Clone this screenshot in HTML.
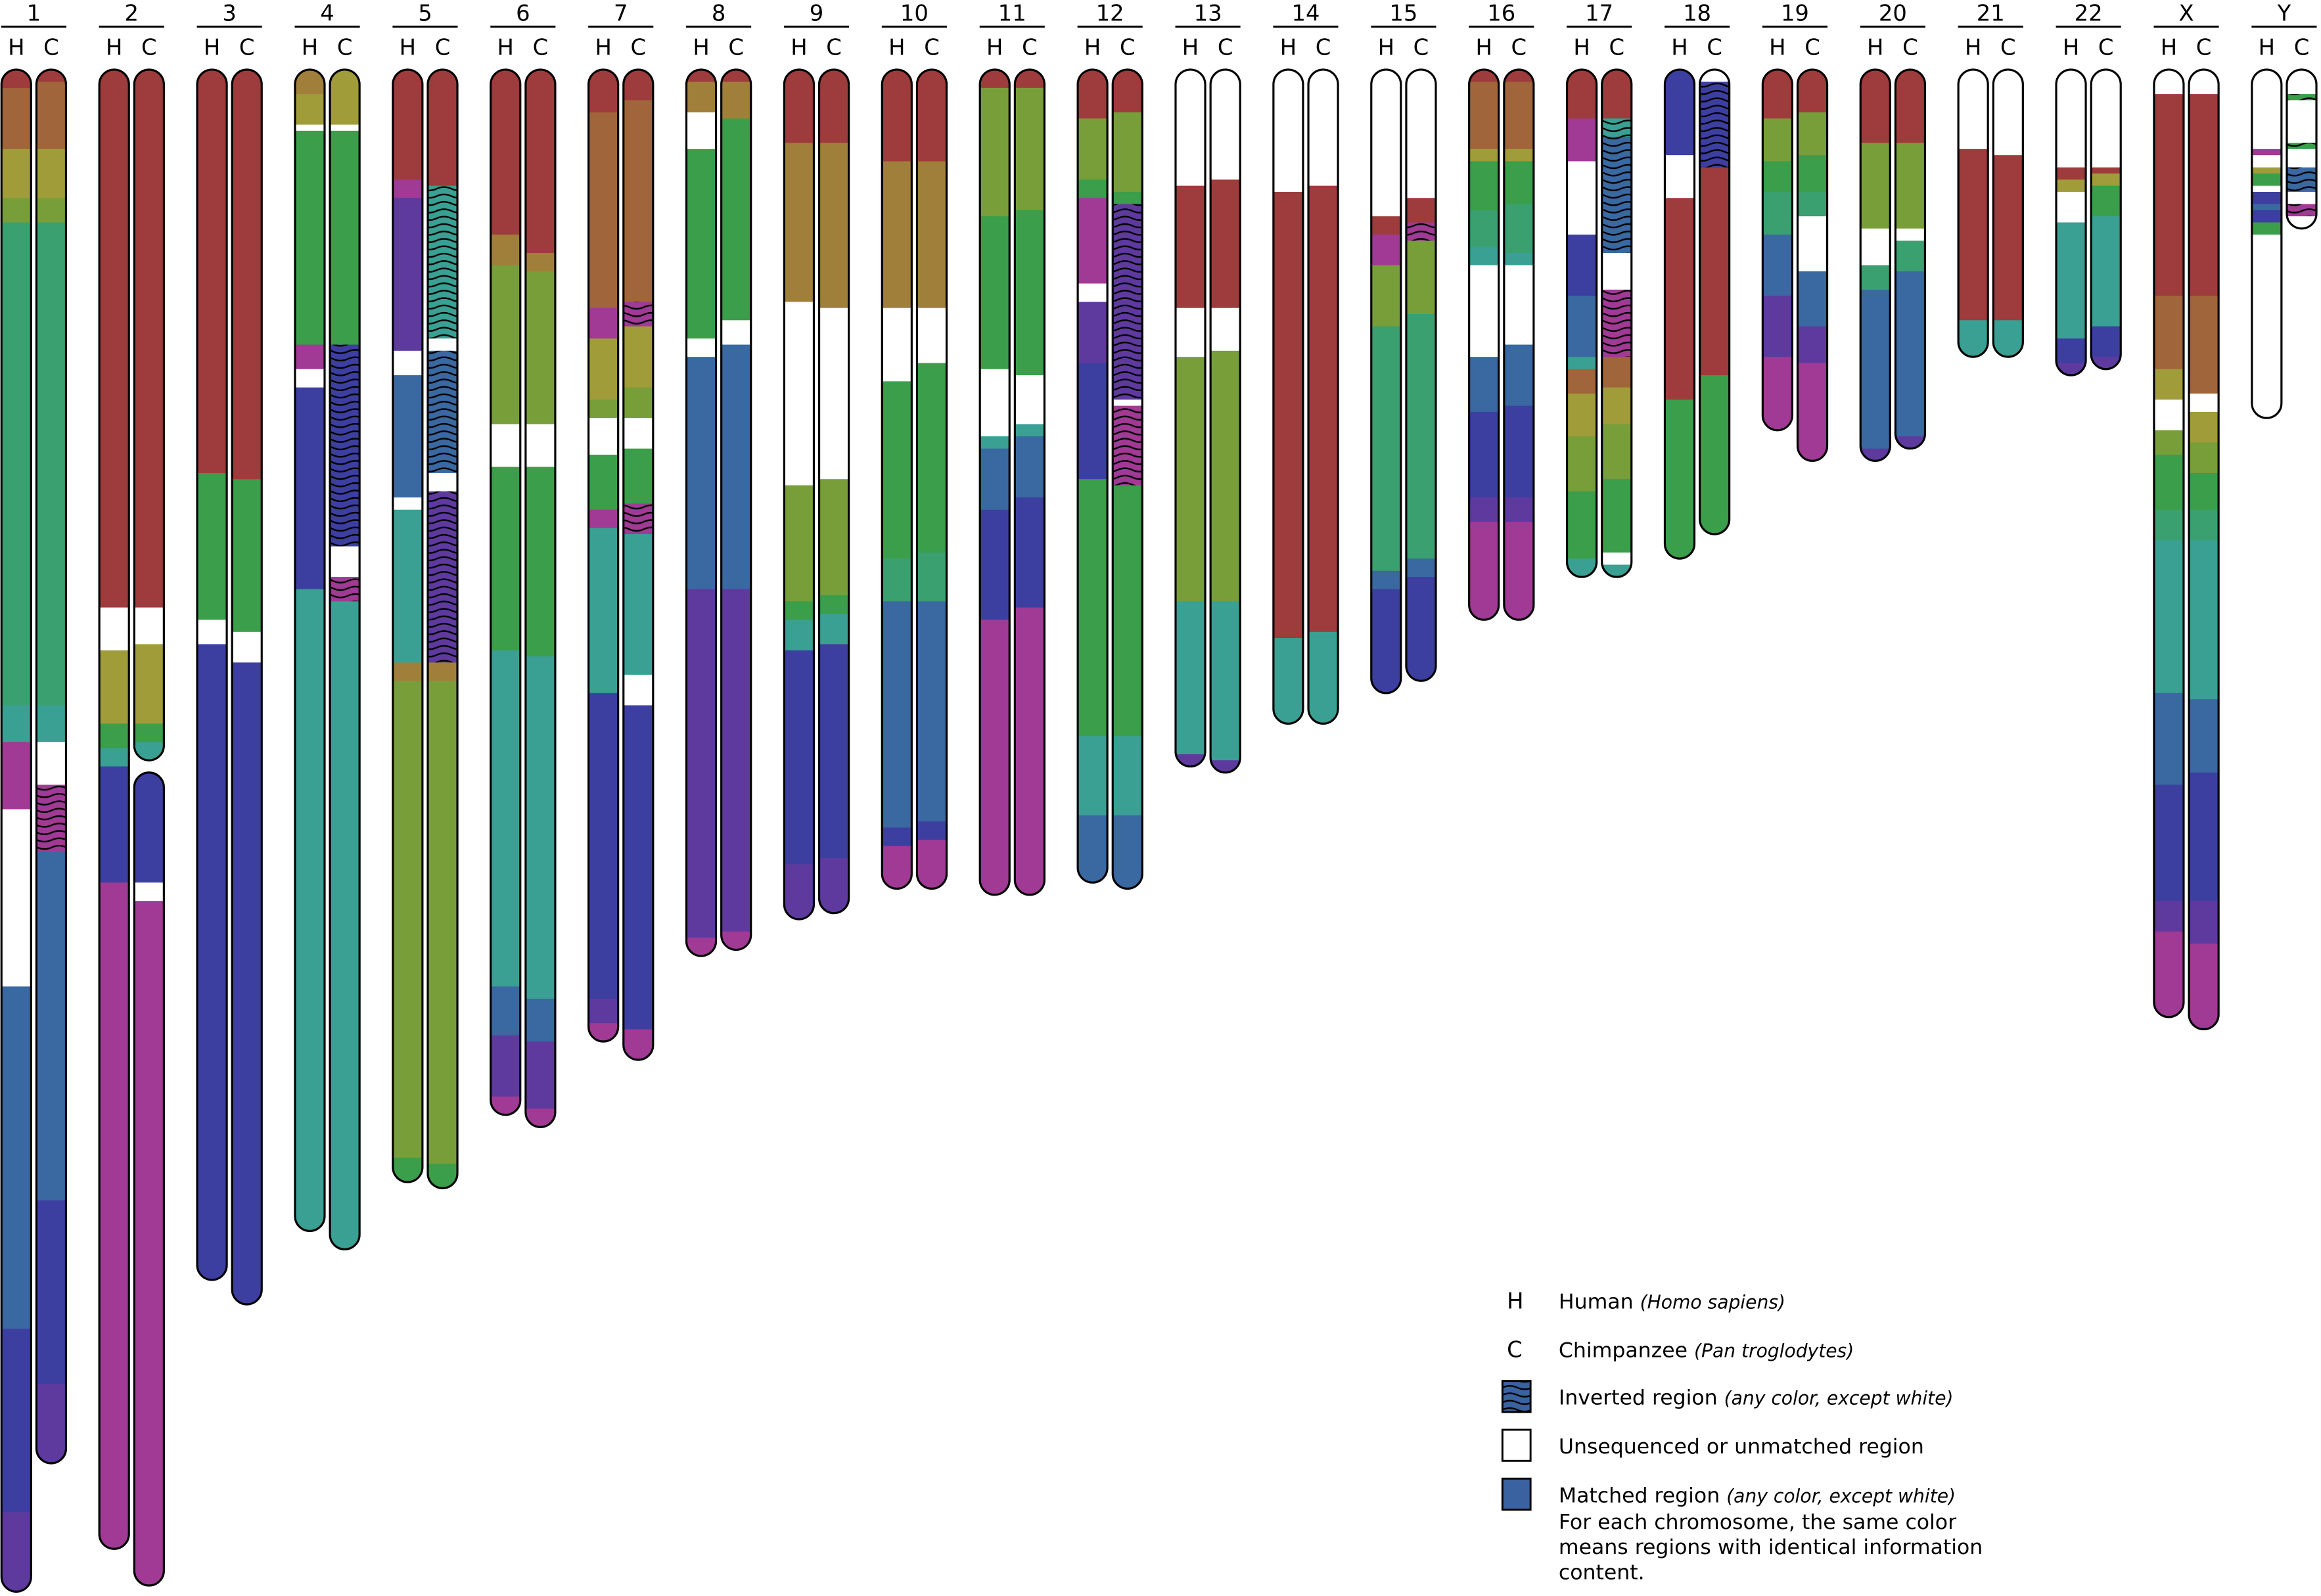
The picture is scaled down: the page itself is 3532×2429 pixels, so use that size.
<!DOCTYPE html>
<html><head><meta charset="utf-8">
<style>
html,body{margin:0;padding:0;background:#fff;}
svg{display:block;}
text{font-family:"DejaVu Sans","Liberation Sans",sans-serif;}
</style></head>
<body>
<svg id="chart" xmlns="http://www.w3.org/2000/svg" width="3532" height="2429" viewBox="0 0 1568 1078.3">
<defs>
<pattern id="wave" width="20" height="5" patternUnits="userSpaceOnUse">
<path d="M-5 2.5 Q0 0.2 5 2.5 T15 2.5 T25 2.5" fill="none" stroke="#000" stroke-width="1.1"/>
</pattern>
</defs>
<g id="chroms"></g>
<g id="legend" font-size="14">
<text x="1018" y="884" font-size="15">H</text>
<text x="1053" y="884">Human <tspan font-style="italic" font-size="12.5">(Homo sapiens)</tspan></text>
<text x="1018" y="917" font-size="15">C</text>
<text x="1053" y="917">Chimpanzee <tspan font-style="italic" font-size="12.5">(Pan troglodytes)</tspan></text>
<rect x="1015" y="933" width="19" height="21" fill="#3a62a0"/>
<rect x="1015" y="933" width="19" height="21" fill="url(#wave)" stroke="#000" stroke-width="1.3"/>
<text x="1053" y="949">Inverted region <tspan font-style="italic" font-size="12.5">(any color, except white)</tspan></text>
<rect x="1015" y="966" width="19" height="21" fill="#fff" stroke="#000" stroke-width="1.3"/>
<text x="1053" y="982">Unsequenced or unmatched region</text>
<rect x="1015" y="999" width="19" height="21" fill="#3a62a0" stroke="#000" stroke-width="1.3"/>
<text x="1053" y="1015">Matched region <tspan font-style="italic" font-size="12.5">(any color, except white)</tspan></text>
<text x="1053" y="1033">For each chromosome, the same color</text>
<text x="1053" y="1050">means regions with identical information</text>
<text x="1053" y="1067">content.</text>
</g>
</svg>
<script>
const chromNames = ["1","2","3","4","5","6","7","8","9","10","11","12","13","14","15","16","17","18","19","20","21","22","X","Y"];
// segments: [startMb, endMb, colorKey, inverted(1/0)]; "gap" breaks the bar
const humanSegs = [
 [[0,3,"r"],[3,13,"b"],[13,21,"o"],[21,25,"yg"],[25,104,"sg"],[104,110,"t"],[110,121,"m"],[121,150,"w"],[150,206,"s"],[206,236,"i"],[236,249,"p"]],
 [[0,88,"r"],[88,95,"w"],[95,107,"o"],[107,111,"g"],[111,114,"t"],[114,133,"i"],[133,242,"m"]],
 [[0,66,"r"],[66,90,"g"],[90,94,"w"],[94,198,"i"]],
 [[0,4,"ob"],[4,9,"o"],[9,10,"w"],[10,45,"g"],[45,49,"m"],[49,52,"w"],[52,70,"i"],[70,85,"i"],[85,190,"t"]],
 [[0,18,"r"],[18,21,"m"],[21,46,"p"],[46,50,"w"],[50,70,"s"],[70,72,"w"],[72,97,"t"],[97,100,"ob"],[100,178,"yg"],[178,182,"g"]],
 [[0,27,"r"],[27,32,"ob"],[32,58,"yg"],[58,65,"w"],[65,95,"g"],[95,150,"t"],[150,158,"s"],[158,168,"p"],[168,171,"m"]],
 [[0,7,"r"],[7,39,"b"],[39,44,"m"],[44,54,"o"],[54,57,"yg"],[57,63,"w"],[63,72,"g"],[72,75,"m"],[75,102,"t"],[102,152,"i"],[152,156,"p"],[156,159,"m"]],
 [[0,2,"r"],[2,7,"ob"],[7,13,"w"],[13,44,"g"],[44,47,"w"],[47,85,"s"],[85,142,"p"],[142,145,"m"]],
 [[0,12,"r"],[12,38,"ob"],[38,68,"w"],[68,87,"yg"],[87,90,"g"],[90,95,"t"],[95,130,"i"],[130,139,"p"]],
 [[0,15,"r"],[15,39,"ob"],[39,51,"w"],[51,80,"g"],[80,87,"sg"],[87,124,"s"],[124,127,"i"],[127,134,"m"]],
 [[0,3,"r"],[3,24,"yg"],[24,49,"g"],[49,60,"w"],[60,62,"t"],[62,72,"s"],[72,90,"i"],[90,135,"m"]],
 [[0,8,"r"],[8,18,"yg"],[18,21,"g"],[21,35,"m"],[35,38,"w"],[38,48,"p"],[48,67,"i"],[67,109,"g"],[109,122,"t"],[122,133,"s"]],
 [[0,19,"w"],[19,39,"r"],[39,47,"w"],[47,87,"yg"],[87,112,"t"],[112,114,"p"]],
 [[0,20,"w"],[20,93,"r"],[93,107,"t"]],
 [[0,24,"w"],[24,27,"r"],[27,32,"m"],[32,42,"yg"],[42,82,"sg"],[82,85,"s"],[85,102,"i"]],
 [[0,2,"r"],[2,13,"b"],[13,15,"o"],[15,23,"g"],[23,29,"sg"],[29,32,"t"],[32,47,"w"],[47,56,"s"],[56,70,"i"],[70,74,"p"],[74,90,"m"]],
 [[0,8,"r"],[8,15,"m"],[15,27,"w"],[27,37,"i"],[37,47,"s"],[47,49,"t"],[49,53,"b"],[53,60,"o"],[60,69,"yg"],[69,80,"g"],[80,83,"t"]],
 [[0,14,"i"],[14,21,"w"],[21,54,"r"],[54,80,"g"]],
 [[0,8,"r"],[8,15,"yg"],[15,20,"g"],[20,27,"sg"],[27,37,"s"],[37,47,"p"],[47,59,"m"]],
 [[0,12,"r"],[12,26,"yg"],[26,32,"w"],[32,36,"sg"],[36,62,"s"],[62,64,"p"]],
 [[0,13,"w"],[13,41,"r"],[41,47,"t"]],
 [[0,16,"w"],[16,18,"r"],[18,20,"o"],[20,25,"w"],[25,44,"t"],[44,48,"i"],[48,50,"p"]],
 [[0,4,"w"],[4,37,"r"],[37,49,"b"],[49,54,"o"],[54,59,"w"],[59,63,"yg"],[63,72,"g"],[72,77,"sg"],[77,102,"t"],[102,117,"s"],[117,136,"i"],[136,141,"p"],[141,155,"m"]],
 [[0,13,"w"],[13,14,"m"],[14,16,"w"],[16,17,"o"],[17,19,"g"],[19,20,"w"],[20,22,"i"],[22,23,"s"],[23,25,"i"],[25,27,"g"],[27,57,"w"]]
];
const chimpSegs = [
 [[0,2,"r"],[2,13,"b"],[13,21,"o"],[21,25,"yg"],[25,104,"sg"],[104,110,"t"],[110,117,"w"],[117,128,"m",1],[128,185,"s"],[185,215,"i"],[215,228,"p"]],
 [[0,88,"r"],[88,94,"w"],[94,107,"o"],[107,110,"g"],[110,113,"t"],[113,115,"gap"],[115,133,"i"],[133,136,"w"],[136,248,"m"]],
 [[0,67,"r"],[67,92,"g"],[92,97,"w"],[97,202,"i"]],
 [[0,9,"o"],[9,10,"w"],[10,45,"g"],[45,78,"i",1],[78,83,"w"],[83,87,"m",1],[87,193,"t"]],
 [[0,19,"r"],[19,44,"t",1],[44,46,"w"],[46,66,"s",1],[66,69,"w"],[69,97,"p",1],[97,100,"ob"],[100,179,"yg"],[179,183,"g"]],
 [[0,30,"r"],[30,33,"ob"],[33,58,"yg"],[58,65,"w"],[65,96,"g"],[96,152,"t"],[152,159,"s"],[159,170,"p"],[170,173,"m"]],
 [[0,5,"r"],[5,38,"b"],[38,42,"m",1],[42,52,"o"],[52,57,"yg"],[57,62,"w"],[62,71,"g"],[71,76,"m",1],[76,99,"t"],[99,104,"w"],[104,157,"i"],[157,162,"m"]],
 [[0,2,"r"],[2,8,"ob"],[8,41,"g"],[41,45,"w"],[45,85,"s"],[85,141,"p"],[141,144,"m"]],
 [[0,12,"r"],[12,39,"ob"],[39,67,"w"],[67,86,"yg"],[86,89,"g"],[89,94,"t"],[94,129,"i"],[129,138,"p"]],
 [[0,15,"r"],[15,39,"ob"],[39,48,"w"],[48,79,"g"],[79,87,"sg"],[87,123,"s"],[123,126,"i"],[126,134,"m"]],
 [[0,3,"r"],[3,23,"yg"],[23,50,"g"],[50,58,"w"],[58,60,"t"],[60,70,"s"],[70,88,"i"],[88,135,"m"]],
 [[0,7,"r"],[7,20,"yg"],[20,22,"g"],[22,54,"p",1],[54,55,"w"],[55,68,"m",1],[68,109,"g"],[109,122,"t"],[122,134,"s"]],
 [[0,18,"w"],[18,39,"r"],[39,46,"w"],[46,87,"yg"],[87,113,"t"],[113,115,"p"]],
 [[0,19,"w"],[19,92,"r"],[92,107,"t"]],
 [[0,21,"w"],[21,25,"r"],[25,28,"m",1],[28,40,"yg"],[40,80,"sg"],[80,83,"s"],[83,100,"i"]],
 [[0,2,"r"],[2,13,"b"],[13,15,"o"],[15,22,"g"],[22,30,"sg"],[30,32,"t"],[32,45,"w"],[45,55,"s"],[55,70,"i"],[70,74,"p"],[74,90,"m"]],
 [[0,8,"r"],[8,11,"t",1],[11,30,"s",1],[30,36,"w"],[36,47,"m",1],[47,52,"b"],[52,58,"o"],[58,67,"yg"],[67,79,"g"],[79,81,"w"],[81,83,"t"]],
 [[0,2,"w"],[2,16,"i",1],[16,50,"r"],[50,76,"g"]],
 [[0,7,"r"],[7,14,"yg"],[14,20,"g"],[20,24,"sg"],[24,33,"w"],[33,42,"s"],[42,48,"p"],[48,64,"m"]],
 [[0,12,"r"],[12,26,"yg"],[26,28,"w"],[28,33,"sg"],[33,60,"s"],[60,62,"p"]],
 [[0,14,"w"],[14,41,"r"],[41,47,"t"]],
 [[0,16,"w"],[16,17,"r"],[17,19,"o"],[19,24,"g"],[24,42,"t"],[42,47,"i"],[47,49,"p"]],
 [[0,4,"w"],[4,37,"r"],[37,53,"b"],[53,56,"w"],[56,61,"o"],[61,66,"yg"],[66,72,"g"],[72,77,"sg"],[77,103,"t"],[103,115,"s"],[115,136,"i"],[136,143,"p"],[143,157,"m"]],
 [[0,4,"w"],[4,5,"g",1],[5,12,"w"],[12,13,"g",1],[13,16,"w"],[16,20,"s",1],[20,22,"w"],[22,24,"m",1],[24,26,"w"]]
];
const palette = {r:"#9e3b3c",b:"#a0653a",ob:"#a07f3a",o:"#a09c3a",yg:"#789e3a",g:"#3a9e4a",sg:"#3aa070",t:"#3aa093",s:"#3a68a0",i:"#3d3fa0",p:"#5e3a9f",m:"#a03a95",w:"#ffffff"};

const NS="http://www.w3.org/2000/svg";
const root=document.getElementById("chroms");
const yTop=47, pxPerMb=4.13, colStep=66.1, firstH=11, hcGap=23.6, barW=20;
function yScale(mb){return yTop+mb*pxPerMb;}
function mk(tag,attrs,parent){const e=document.createElementNS(NS,tag);for(const k in attrs)e.setAttribute(k,attrs[k]);parent.appendChild(e);return e;}
let clipId=0;
function drawBar(segs,cx,g,label){
  const pieces=[];let cur=[];
  segs.forEach(s=>{if(s[2]==="gap"){if(cur.length)pieces.push(cur);cur=[];}else cur.push(s);});
  if(cur.length)pieces.push(cur);
  pieces.forEach(pc=>{
    const y0=yScale(pc[0][0]), y1=yScale(pc[pc.length-1][1]);
    const id="c"+(clipId++);
    const cp=mk("clipPath",{id:id},g);
    mk("rect",{x:cx-barW/2,y:y0,width:barW,height:y1-y0,rx:barW/2,ry:barW/2},cp);
    const sg=mk("g",{"clip-path":"url(#"+id+")"},g);
    pc.forEach(s=>{
      const ya=yScale(s[0]), yb=yScale(s[1]);
      const r=mk("rect",{x:cx-barW/2,y:ya,width:barW,height:yb-ya+0.3,fill:palette[s[2]]},sg);
      
      
      if(s[3]){mk("rect",{x:cx-barW/2,y:ya,width:barW,height:yb-ya,fill:"url(#wave)"},sg);}
    });
    const o=mk("rect",{x:cx-barW/2,y:y0,width:barW,height:y1-y0,rx:barW/2,ry:barW/2,fill:"none",stroke:"#000","stroke-width":1.4},g);
    
    
  });
}
chromNames.forEach((n,i)=>{
  const hx=firstH+colStep*i, cxC=hx+hcGap, mid=(hx+cxC)/2;
  const g=mk("g",{},root);
  
  
  const t=mk("text",{x:mid,y:14,"text-anchor":"middle","font-size":15},g);
  t.textContent=n;
  
  
  const l=mk("line",{x1:mid-22,x2:mid+22,y1:18,y2:18,stroke:"#000","stroke-width":1.4},g);
  
  
  const th=mk("text",{x:hx,y:37,"text-anchor":"middle","font-size":15},g);th.textContent="H";
  
  
  const tc=mk("text",{x:cxC,y:37,"text-anchor":"middle","font-size":15},g);tc.textContent="C";
  
  
  drawBar(humanSegs[i],hx,g,'human-chr'+n);
  drawBar(chimpSegs[i],cxC,g,'chimp-chr'+n);
});
</script>
</body></html>
